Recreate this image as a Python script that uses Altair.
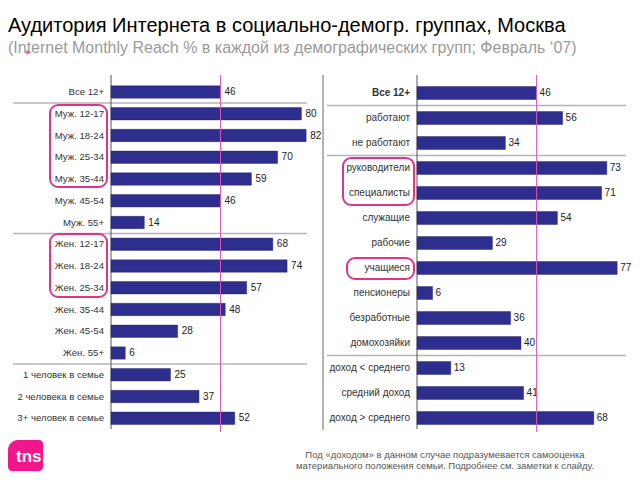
import altair as alt
import pandas as pd

# ---------------- data ----------------
left_labels = ["Все 12+", "Муж. 12-17", "Муж. 18-24", "Муж. 25-34", "Муж. 35-44", "Муж. 45-54", "Муж. 55+",
               "Жен. 12-17", "Жен. 18-24", "Жен. 25-34", "Жен. 35-44", "Жен. 45-54", "Жен. 55+",
               "1 человек в семье", "2 человека в семье", "3+ человек в семье"]
left_values = [46, 80, 82, 70, 59, 46, 14, 68, 74, 57, 48, 28, 6, 25, 37, 52]

right_labels = ["Все 12+", "работают", "не работают", "руководители", "специалисты", "служащие", "рабочие",
                "учащиеся", "пенсионеры", "безработные", "домохозяйки",
                "доход < среднего", "средний доход", "доход > среднего"]
right_values = [46, 56, 34, 73, 71, 54, 29, 77, 6, 36, 40, 13, 41, 68]

average = 46

title = "Аудитория Интернета в социально-демогр. группах, Москва"
subtitle = "(Internet Monthly Reach % в каждой из демографических групп; Февраль ‘07)"
footnote = ["Под «доходом» в данном случае подразумевается самооценка",
            "материального положения семьи. Подробнее см. заметки к слайду."]

# ---------------- styles / layout ----------------
FONT = "Liberation Sans"
BAR = "#2e2e8e"
PINK_LINE = "#dd55b8"
PINK_BOX = "#e0348a"
SEP = "#b4b4b4"
AXIS = "#555555"

W, H = 624, 464

L_X0, L_PX = 103, 2.38
L_C0, L_STEP = 84.0, 21.75
R_X0, R_PX = 409, 2.6
R_C0, R_STEP = 85.0, 25.0

L_X = alt.Scale(domain=[0, 100], range=[L_X0, L_X0 + 100 * L_PX])
L_Y = alt.Scale(domain=left_labels,
                range=[L_C0 - L_STEP / 2, L_C0 + (len(left_labels) - 0.5) * L_STEP],
                paddingInner=0.43, paddingOuter=0.215)
R_X = alt.Scale(domain=[0, 100], range=[R_X0, R_X0 + 100 * R_PX])
R_Y = alt.Scale(domain=right_labels,
                range=[R_C0 - R_STEP / 2, R_C0 + (len(right_labels) - 0.5) * R_STEP],
                paddingInner=0.48, paddingOuter=0.24)

left_df = pd.DataFrame({"label": left_labels, "value": left_values, "idx": range(len(left_labels))})
right_df = pd.DataFrame({"label": right_labels, "value": right_values, "idx": range(len(right_labels))})
avg_df = pd.DataFrame({"avg": [average]})
one = pd.DataFrame({"k": [0]})


def panel(df, xs, ys, label_x, label_size, val_dx, bold_first=False):
    y = alt.Y("label:N", scale=ys, axis=None)
    bars = alt.Chart(df).mark_bar(color=BAR, stroke="#20205f", strokeWidth=0.4).encode(
        y=y, x=alt.X("value:Q", scale=xs, axis=None))
    vals = alt.Chart(df).mark_text(align="left", baseline="middle", dx=val_dx, font=FONT,
                                   fontSize=10, color="#222222").encode(
        y=y, x=alt.X("value:Q", scale=xs, axis=None), text="value:Q")
    lab_kw = dict(align="right", baseline="middle", font=FONT, fontSize=label_size, color="#333333")
    out = [bars, vals]
    if bold_first:
        out.append(alt.Chart(df).transform_filter("datum.idx > 0").mark_text(**lab_kw).encode(
            y=y, x=alt.value(label_x), text="label:N"))
        out.append(alt.Chart(df).transform_filter("datum.idx == 0").mark_text(
            fontWeight="bold", **lab_kw).encode(y=y, x=alt.value(label_x), text="label:N"))
    else:
        out.append(alt.Chart(df).mark_text(**lab_kw).encode(y=y, x=alt.value(label_x), text="label:N"))
    out.append(alt.Chart(avg_df).mark_rule(color=PINK_LINE, strokeWidth=1).encode(
        x=alt.X("avg:Q", scale=xs, axis=None), y=alt.value(67), y2=alt.value(424)))
    return out


def vrule(x, y1, y2, color=AXIS, w=1.0):
    return alt.Chart(one).mark_rule(color=color, strokeWidth=w).encode(
        x=alt.value(x), y=alt.value(y1), y2=alt.value(y2))


def hrule(y, x1, x2):
    return alt.Chart(one).mark_rule(color=SEP, strokeWidth=1.5).encode(
        y=alt.value(y), x=alt.value(x1), x2=alt.value(x2))


def box(x1, x2, y1, y2):
    return alt.Chart(one).mark_rect(fillOpacity=0, stroke=PINK_BOX, strokeWidth=2,
                                    cornerRadius=8).encode(
        x=alt.value(x1), x2=alt.value(x2), y=alt.value(y1), y2=alt.value(y2))


def text(t, x, y, size, color="#000000", align="left", weight="normal"):
    return alt.Chart(pd.DataFrame({"t": [t]})).mark_text(
        align=align, baseline="alphabetic", font=FONT, fontSize=size, color=color,
        fontWeight=weight).encode(x=alt.value(x), y=alt.value(y), text="t:N")


layers = []
for i in [0, 6, 12]:
    layers.append(hrule(L_C0 + (i + 0.5) * L_STEP, 5, 299))
for i in [0, 2, 10]:
    layers.append(hrule(R_C0 + (i + 0.5) * R_STEP, 319, 618))
layers += [vrule(L_X0, 67, 421), vrule(R_X0, 67, 421), vrule(315, 67, 422, color="#666666")]

layers += panel(left_df, L_X, L_Y, 96, 9.6, 4)
layers += panel(right_df, R_X, R_Y, 402, 10, 3, bold_first=True)

layers += [box(42, 99, 97, 179), box(42, 99, 226, 289), box(335, 406, 150, 197), box(339, 406, 250, 271)]

layers += [text(title, 0, 24, 20), text(subtitle, 0, 45, 16, color="#9a9a9a"),
           text("*", 17, 51, 13, color="#d0407a")]

layers += [text(footnote[0], 437, 450, 9.5, color="#555555", align="center"),
           text(footnote[1], 437, 461, 9.5, color="#555555", align="center")]

layers.append(alt.Chart(one).mark_rect(color="#f0168c", cornerRadius=4, cornerRadiusTopLeft=10).encode(
    x=alt.value(0), x2=alt.value(35), y=alt.value(432), y2=alt.value(463)))
layers.append(text("tns", 8, 454, 17, color="#ffffff", weight="bold"))

chart = alt.layer(*layers).properties(
    width=W, height=H, autosize="none", padding=0
).resolve_scale(x="independent", y="independent").configure_view(stroke=None)

chart.save("out.html", embed_options={"renderer": "svg", "actions": False})
